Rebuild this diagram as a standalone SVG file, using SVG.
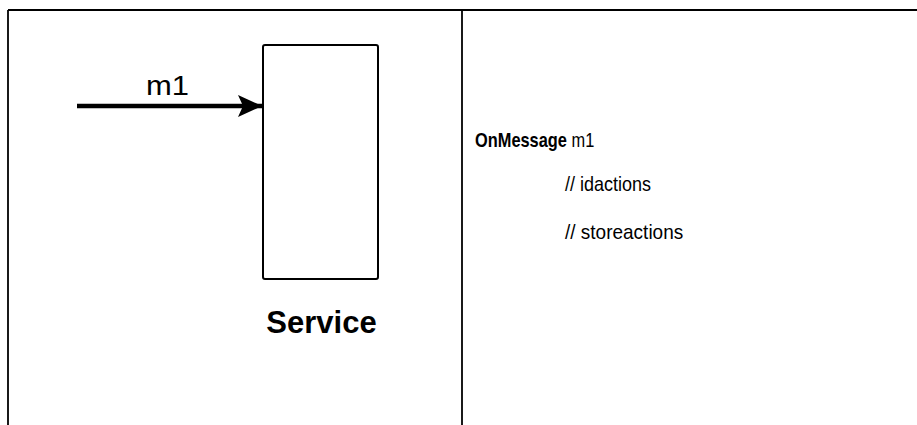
<svg xmlns="http://www.w3.org/2000/svg" width="917" height="425" viewBox="0 0 917 425">
<style>
.frame{stroke:#000;stroke-width:1.8;fill:none}
.box{stroke:#000;stroke-width:2;fill:#fff}
.t{font-family:"Liberation Sans",Arial,sans-serif;fill:#000}
</style>
<defs>
<marker id="ah" markerUnits="userSpaceOnUse" markerWidth="26" markerHeight="24" refX="24" refY="12" orient="auto">
<path d="M0,1 L24,12 L0,23 L5,12 Z" fill="#000"/>
</marker>
</defs>
<rect width="917" height="425" fill="#fff"/>
<g id="frame">
<line class="frame" x1="8" y1="10" x2="917" y2="10"/>
<line class="frame" x1="8" y1="10" x2="8" y2="425"/>
<line class="frame" x1="462" y1="10" x2="462" y2="425" stroke-width="1.5"/>
</g>
<g id="service">
<rect class="box" x="263" y="45" width="115" height="234" rx="2"/>
<text class="t" x="321.5" y="333" font-size="31" font-weight="bold" text-anchor="middle">Service</text>
</g>
<g id="connectors">
<line x1="77" y1="106" x2="262" y2="106" stroke="#000" stroke-width="4.5" marker-end="url(#ah)"/>
<text class="t" x="146" y="95" font-size="27" textLength="43" lengthAdjust="spacingAndGlyphs">m1</text>
</g>
<g id="code">
<text class="t" transform="translate(475,147) scale(0.82,1)" font-size="20"><tspan font-weight="bold">OnMessage</tspan> m1</text>
<text class="t" transform="translate(565,191) scale(0.9,1)" font-size="20">// idactions</text>
<text class="t" transform="translate(565,239) scale(0.95,1)" font-size="20">// storeactions</text>
</g>
</svg>
